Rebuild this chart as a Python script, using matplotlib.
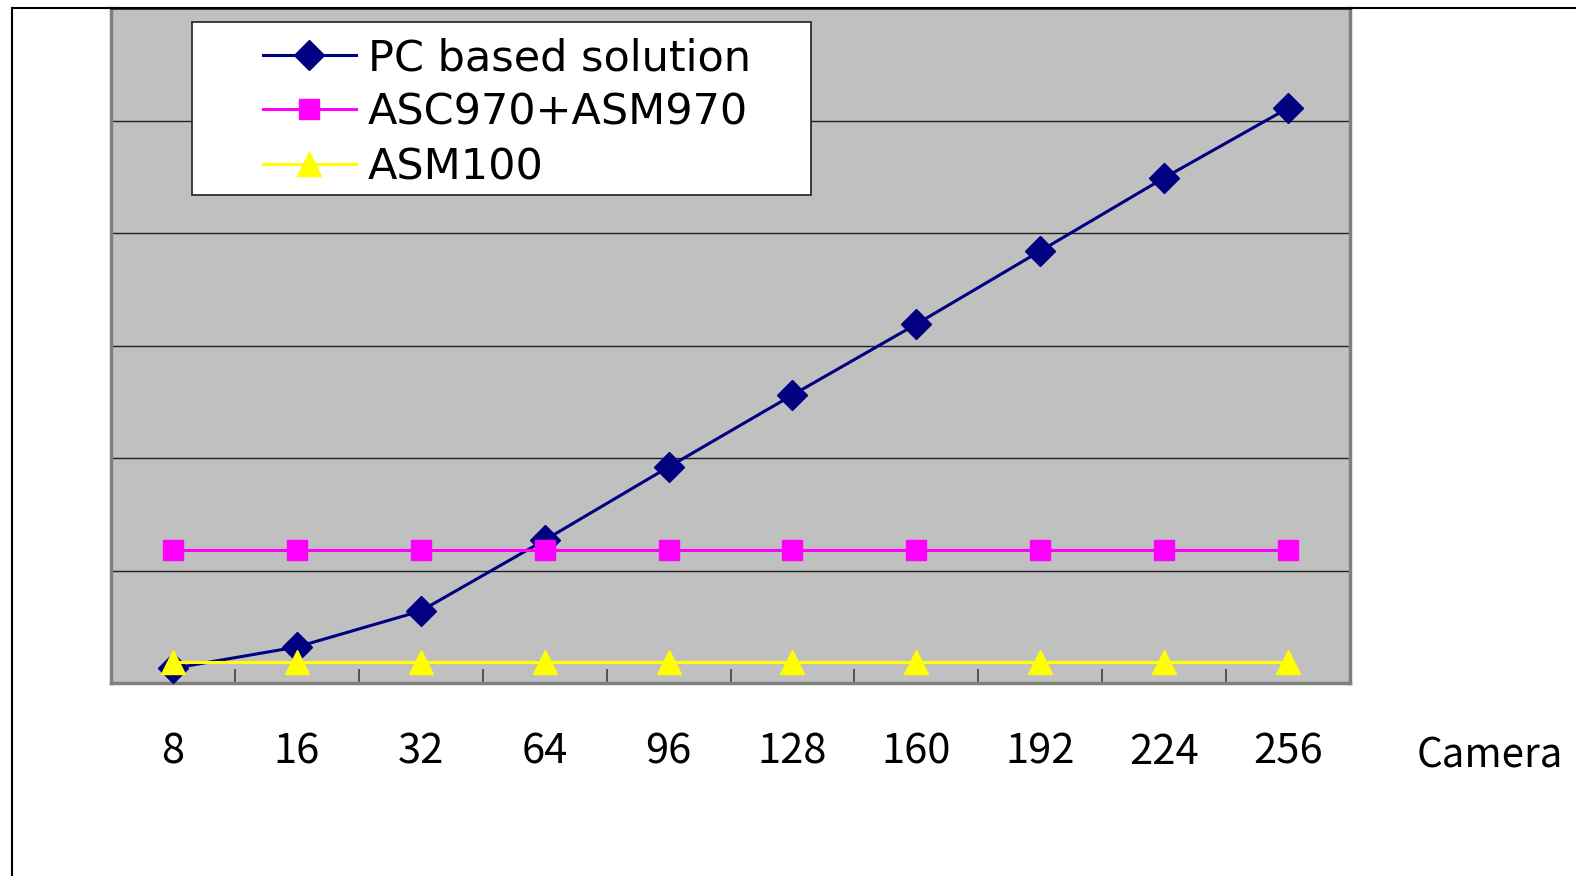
import matplotlib
matplotlib.use('Agg')
import matplotlib.pyplot as plt
from matplotlib.lines import Line2D
from matplotlib.patches import Rectangle
import numpy as np

# chart data (y in grid units, axis has no value labels)
cameras = ['8', '16', '32', '64', '96', '128', '160', '192', '224', '256']
pc_based = [0.13, 0.32, 0.64, 1.27, 1.92, 2.56, 3.19, 3.84, 4.49, 5.11]
asc970_asm970 = [1.18, 1.18, 1.18, 1.18, 1.18, 1.18, 1.18, 1.18, 1.18, 1.18]
asm100 = [0.19, 0.19, 0.19, 0.19, 0.19, 0.19, 0.19, 0.19, 0.19, 0.19]
series_names = ['PC based solution', 'ASC970+ASM970', 'ASM100']

plt.rcParams['font.family'] = ['Noto Sans CJK JP', 'DejaVu Sans']

W, H = 1576, 876
# plot area in pixels
L, R, T, B = 111, 1350, 8, 683
fig = plt.figure(figsize=(W / 100, H / 100), dpi=100)
ax = fig.add_axes([L / W, 1 - B / H, (R - L) / W, (B - T) / H])
ax.set_facecolor('#c0c0c0')

x = np.arange(len(cameras))
ax.plot(x, pc_based, color='#000080', lw=2.2, marker='D', ms=15,
        label=series_names[0], zorder=3)
ax.plot(x, asc970_asm970, color='#ff00ff', lw=2.2, marker='s', ms=14.5,
        label=series_names[1], zorder=3)
ax.plot(x, asm100, color='#ffff00', lw=2.2, marker='^', ms=17,
        label=series_names[2], zorder=3)

ax.set_xlim(-0.5, len(cameras) - 0.5)
ax.set_ylim(0, 6)

# horizontal gridlines
ax.set_yticks(np.arange(0, 7))
ax.yaxis.grid(True, color='#202020', lw=1)
ax.set_axisbelow(True)
ax.tick_params(axis='y', direction='in', length=5, labelleft=False, color='#202020')

# category boundary ticks, labels at centres
ax.set_xticks(np.arange(0.5, len(cameras) - 0.5), minor=False)
ax.tick_params(axis='x', which='major', direction='in', length=10,
               labelbottom=False, color='#404040', width=1.2)
ax.set_xticks(x, minor=True)
ax.set_xticklabels(cameras, minor=True, fontsize=30)
ax.tick_params(axis='x', which='minor', length=0, pad=35)

for side in ['left', 'right', 'bottom']:
    ax.spines[side].set_color('#808080')
    ax.spines[side].set_linewidth(2.5)
ax.spines['top'].set_color('#303030')
ax.spines['top'].set_linewidth(2)

# x axis title to the right of the plot
fig.text(1417 / W, 1 - 756 / H, 'Camera', fontsize=29, ha='left', va='center')

# legend box (drawn separately so it can be wider than its contents)
aw, ah = R - L, B - T
box = Rectangle(((192 - L) / aw, (B - 195) / ah), (811 - 192) / aw, (195 - 22) / ah,
                transform=ax.transAxes, facecolor='white', edgecolor='#202020',
                lw=1.2, zorder=4)
ax.add_patch(box)
leg = ax.legend(loc='upper left', bbox_to_anchor=((251 - L) / aw, (B - 25) / ah),
                frameon=False, prop={'family': 'DejaVu Sans', 'size': 31},
                handlelength=2.15, handletextpad=0.28,
                labelspacing=0.29, borderpad=0.28, borderaxespad=0)
leg.set_zorder(5)

# outer frame lines of the sheet
fig.add_artist(Line2D([12 / W, 12 / W], [0, 1 - 8 / H], color='black', lw=1.5))
fig.add_artist(Line2D([12 / W, 1], [1 - 8 / H, 1 - 8 / H], color='black', lw=1.5))

fig.savefig('out.png', dpi=100)
